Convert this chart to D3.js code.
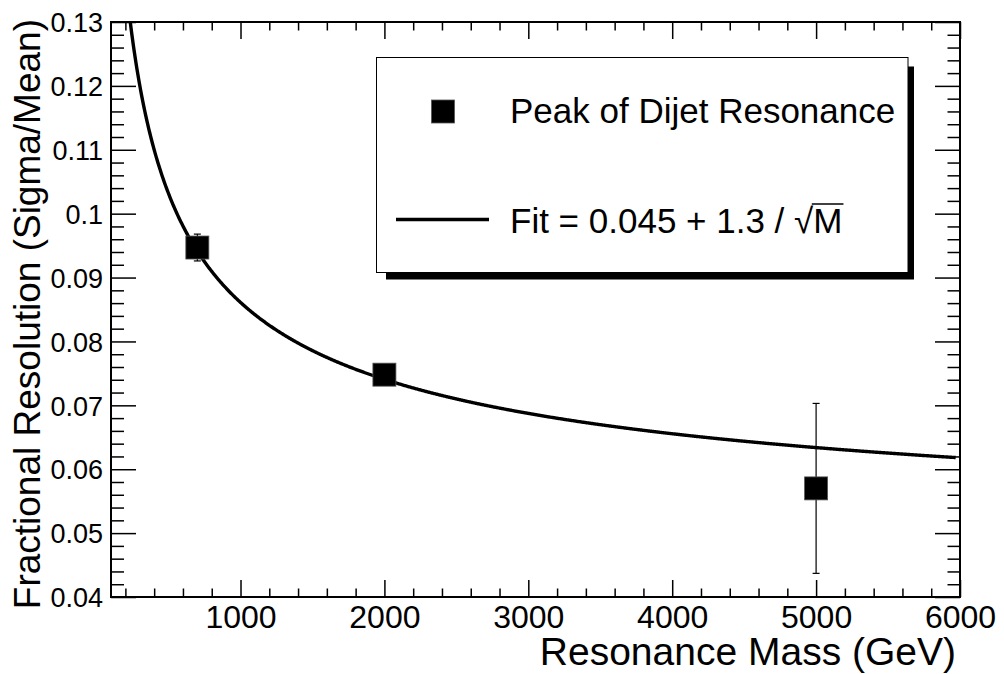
<!DOCTYPE html>
<html>
<head>
<meta charset="utf-8">
<script src="https://cdn.jsdelivr.net/npm/d3@7"></script>
<style>
  html, body { margin: 0; padding: 0; background: #fff; }
  svg { display: block; font-family: "Liberation Sans", Arial, Helvetica, sans-serif; }
</style>
</head>
<body>
<svg id="chart" width="1004" height="674"></svg>
<script>
// Measured resolution at three dijet resonance masses
const masses = [700, 2000, 5000];
const resolution = [0.0947, 0.0748, 0.057];
const resolutionErr = [0.0021, 0.0008, 0.0133];

// Fit parameters quoted in the legend: 0.045 + 1.3 / sqrt(M)
const fitConst = 0.045;
const fitCoef = 1.3;
const fitRange = [150, 5970];

// Axis ranges and tick values
const xDomain = [100, 6000];
const yDomain = [0.04, 0.13];
const xMajorTicks = [1000, 2000, 3000, 4000, 5000, 6000];
const yMajorTicks = [0.04, 0.05, 0.06, 0.07, 0.08, 0.09, 0.1, 0.11, 0.12, 0.13];
const yTickLabels = ["0.04", "0.05", "0.06", "0.07", "0.08", "0.09", "0.1", "0.11", "0.12", "0.13"];

const xTitle = "Resonance Mass (GeV)";
const yTitle = "Fractional Resolution (Sigma/Mean)";
const legendPoints = "Peak of Dijet Resonance";
const legendFit = "Fit = 0.045 + 1.3 / ";

const svg = d3.select("#chart");
const frame = { left: 111, right: 960, top: 22, bottom: 597 };

const x = d3.scaleLinear().domain(xDomain).range([frame.left, frame.right]);
const y = d3.scaleLinear().domain(yDomain).range([frame.bottom, frame.top]);

// minor ticks every 200 GeV and every 0.002
const xMinorTicks = d3.range(200, 6001, 200).filter(v => v % 1000 !== 0);
const yMinorTicks = d3.range(0, 46).map(i => +(0.04 + i * 0.002).toFixed(4))
  .filter(v => v <= 0.13 && Math.abs(v * 100 - Math.round(v * 100)) > 1e-6);

function styleAxis(g) {
  g.select(".domain").remove();
  g.selectAll(".tick line").attr("stroke", "#000").attr("stroke-width", 1.5);
}

// bottom axis
svg.append("g").attr("transform", `translate(0,${frame.bottom})`)
  .call(d3.axisBottom(x).tickValues(xMinorTicks).tickSize(-8.5).tickFormat(""))
  .call(styleAxis);
const xb = svg.append("g").attr("transform", `translate(0,${frame.bottom})`)
  .call(d3.axisBottom(x).tickValues(xMajorTicks).tickSize(-17).tickPadding(8).tickFormat(d3.format("d")))
  .call(styleAxis);
xb.selectAll(".tick text")
  .attr("font-size", 32).attr("fill", "#000")
  .attr("font-family", "Liberation Sans, Arial, sans-serif")
  .attr("dy", null).attr("y", 31);

// top axis (ticks only)
svg.append("g").attr("transform", `translate(0,${frame.top})`)
  .call(d3.axisTop(x).tickValues(xMinorTicks).tickSize(-8.5).tickFormat(""))
  .call(styleAxis);
svg.append("g").attr("transform", `translate(0,${frame.top})`)
  .call(d3.axisTop(x).tickValues(xMajorTicks).tickSize(-17).tickFormat(""))
  .call(styleAxis);

// left axis
svg.append("g").attr("transform", `translate(${frame.left},0)`)
  .call(d3.axisLeft(y).tickValues(yMinorTicks).tickSize(-13).tickFormat(""))
  .call(styleAxis);
const yl = svg.append("g").attr("transform", `translate(${frame.left},0)`)
  .call(d3.axisLeft(y).tickValues(yMajorTicks).tickSize(-25).tickPadding(8)
    .tickFormat((d, i) => yTickLabels[i]))
  .call(styleAxis);
yl.selectAll(".tick text")
  .attr("font-size", 27).attr("fill", "#000")
  .attr("font-family", "Liberation Sans, Arial, sans-serif")
  .attr("dy", "0.36em");

// right axis (ticks only)
svg.append("g").attr("transform", `translate(${frame.right},0)`)
  .call(d3.axisRight(y).tickValues(yMinorTicks).tickSize(-12.5).tickFormat(""))
  .call(styleAxis);
svg.append("g").attr("transform", `translate(${frame.right},0)`)
  .call(d3.axisRight(y).tickValues(yMajorTicks).tickSize(-25).tickFormat(""))
  .call(styleAxis);

// frame
svg.append("rect")
  .attr("x", frame.left).attr("y", frame.top)
  .attr("width", frame.right - frame.left).attr("height", frame.bottom - frame.top)
  .attr("fill", "none").attr("stroke", "#000").attr("stroke-width", 2);

// clip for plotted content
svg.append("clipPath").attr("id", "plotClip")
  .append("rect")
  .attr("x", frame.left).attr("y", frame.top)
  .attr("width", frame.right - frame.left).attr("height", frame.bottom - frame.top);

const plot = svg.append("g").attr("clip-path", "url(#plotClip)");

// fit curve
const fitMasses = d3.range(fitRange[0], fitRange[1] + 1, 5);
const fitLine = d3.line()
  .x(m => x(m))
  .y(m => y(fitConst + fitCoef / Math.sqrt(m)))
  .curve(d3.curveLinear);
plot.append("path")
  .datum(fitMasses)
  .attr("d", fitLine)
  .attr("fill", "none").attr("stroke", "#000").attr("stroke-width", 3.4);

// error bars
const pts = masses.map((m, i) => ({ m, v: resolution[i], e: resolutionErr[i] }));
const capHalf = 3.5;
const eb = plot.append("g").selectAll("g").data(pts).join("g");
eb.append("line")
  .attr("x1", d => x(d.m)).attr("x2", d => x(d.m))
  .attr("y1", d => y(d.v - d.e)).attr("y2", d => y(d.v + d.e))
  .attr("stroke", "#000").attr("stroke-width", 1.2);
eb.append("line")
  .attr("x1", d => x(d.m) - capHalf).attr("x2", d => x(d.m) + capHalf)
  .attr("y1", d => y(d.v + d.e)).attr("y2", d => y(d.v + d.e))
  .attr("stroke", "#000").attr("stroke-width", 1.2);
eb.append("line")
  .attr("x1", d => x(d.m) - capHalf).attr("x2", d => x(d.m) + capHalf)
  .attr("y1", d => y(d.v - d.e)).attr("y2", d => y(d.v - d.e))
  .attr("stroke", "#000").attr("stroke-width", 1.2);

// square markers
const ms = 23;
plot.append("g").selectAll("rect").data(pts).join("rect")
  .attr("x", d => x(d.m) - ms / 2).attr("y", d => y(d.v) - ms / 2)
  .attr("width", ms).attr("height", ms)
  .attr("fill", "#000").attr("stroke", "#555").attr("stroke-width", 0.8);

// axis titles
svg.append("text")
  .attr("x", 956).attr("y", 665)
  .attr("text-anchor", "end")
  .attr("font-size", 39)
  .attr("fill", "#000")
  .text(xTitle);

svg.append("text")
  .attr("transform", "translate(40,19) rotate(-90)")
  .attr("text-anchor", "end")
  .attr("font-size", 37)
  .attr("fill", "#000")
  .text(yTitle);

// legend with drop shadow
const lg = { x0: 376.5, y0: 57.5, x1: 908, y1: 272.5 };
svg.append("rect")
  .attr("x", 386).attr("y", 66.5)
  .attr("width", 914 - 386).attr("height", 279.5 - 66.5)
  .attr("fill", "#000");
svg.append("rect")
  .attr("x", lg.x0).attr("y", lg.y0)
  .attr("width", lg.x1 - lg.x0).attr("height", lg.y1 - lg.y0)
  .attr("fill", "#fff").attr("stroke", "#000").attr("stroke-width", 1);

svg.append("rect")
  .attr("x", 443 - ms / 2).attr("y", 111.5 - ms / 2)
  .attr("width", ms).attr("height", ms)
  .attr("fill", "#000").attr("stroke", "#555").attr("stroke-width", 0.8);
svg.append("text")
  .attr("x", 510).attr("y", 123)
  .attr("font-size", 35).attr("fill", "#000")
  .text(legendPoints);

svg.append("line")
  .attr("x1", 396).attr("x2", 489).attr("y1", 219.5).attr("y2", 219.5)
  .attr("stroke", "#000").attr("stroke-width", 3.4);
const fitText = svg.append("text")
  .attr("x", 510).attr("y", 233)
  .attr("font-size", 35).attr("fill", "#000");
fitText.append("tspan").text(legendFit);
fitText.append("tspan").text("\u221A");
fitText.append("tspan").text("M");

// overline over M to complete the radical
const full = fitText.node();
const n = full.getNumberOfChars();
const mEnd = full.getEndPositionOfChar(n - 1);
const radEnd = full.getEndPositionOfChar(n - 2);
svg.append("line")
  .attr("x1", radEnd.x - 1.5).attr("x2", mEnd.x + 1)
  .attr("y1", 233 - 29).attr("y2", 233 - 29)
  .attr("stroke", "#000").attr("stroke-width", 1.3);
</script>
</body>
</html>
